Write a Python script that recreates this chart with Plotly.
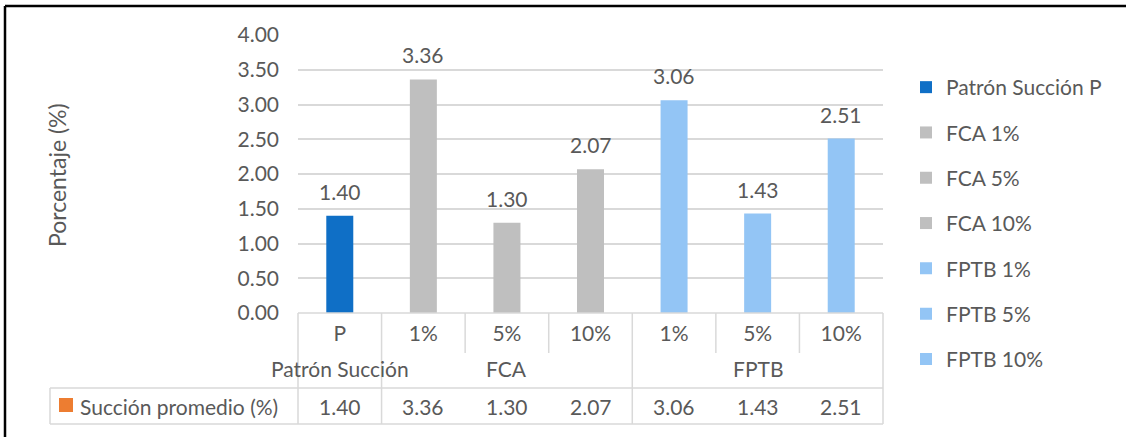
import plotly.graph_objects as go

# ---- data ----
groups = ["Patrón Succión", "FCA", "FCA", "FCA", "FPTB", "FPTB", "FPTB"]
levels = ["P", "1%", "5%", "10%", "1%", "5%", "10%"]
values = [1.40, 3.36, 1.30, 2.07, 3.06, 1.43, 2.51]
table_series = "Succión promedio (%)"
y_title = "Porcentaje (%)"
y_ticks = [0, 0.5, 1.0, 1.5, 2.0, 2.5, 3.0, 3.5, 4.0]

# ---- style ----
bar_colors = ["#0F6FC6", "#BFBFBF", "#BFBFBF", "#BFBFBF", "#93C5F5", "#93C5F5", "#93C5F5"]
table_key_color = "#ED7D31"
text_color = "#595959"
grid_color = "#D9D9D9"
font_family = "Lato, 'Noto Sans', sans-serif"
fs = 21

W, H = 1126, 437
L, R, T, B = 298, 883, 35, 313          # plot area in pixels
PW, PH = R - L, B - T
n = len(values)
legend_split = 4                         # entries shown in the first legend box
legend_step = 45.3                       # vertical distance between entries


def px_x(p):
    return (p - L) / PW


def px_y(p):
    return (B - p) / PH


def cat_x(c):
    # category-axis coordinate -> paper coordinate
    return (c + 0.5) / n


fig = go.Figure()
for i, (g, lv, v) in enumerate(zip(groups, levels, values)):
    fig.add_trace(go.Bar(
        x=[i], y=[v], width=0.323, name=f"{g} {lv}",
        marker=dict(color=bar_colors[i], line=dict(width=0)),
        legendgroup=f"s{i}", hoverinfo="skip",
        legend="legend" if i < legend_split else "legend2",
    ))
    fig.add_annotation(x=i, y=v, xref="x", yref="y", text=f"{v:.2f}",
                       showarrow=False, yanchor="bottom", yshift=10,
                       font=dict(size=fs, color=text_color, family=font_family))

shapes = []
line_style = dict(color=grid_color, width=1.5)

# data-table grid
row1_bot, row2_bot, row3_bot = 353, 388, 424
for k in range(n + 1):
    full = k == 0 or k == n or groups[k - 1] != groups[k]
    y_end = row3_bot if full else row1_bot
    shapes.append(dict(type="line", xref="paper", yref="paper",
                       x0=cat_x(k - 0.5), x1=cat_x(k - 0.5),
                       y0=px_y(B), y1=px_y(y_end), line=line_style))
shapes.append(dict(type="line", xref="paper", yref="paper",
                   x0=0, x1=1, y0=0, y1=0, line=line_style))
for yy in (row2_bot, row3_bot):
    shapes.append(dict(type="line", xref="paper", yref="paper",
                       x0=px_x(50), x1=1, y0=px_y(yy), y1=px_y(yy), line=line_style))
shapes.append(dict(type="line", xref="paper", yref="paper",
                   x0=px_x(50), x1=px_x(50), y0=px_y(row2_bot), y1=px_y(row3_bot),
                   line=line_style))
# series key in the table
shapes.append(dict(type="rect", xref="paper", yref="paper",
                   x0=px_x(59), x1=px_x(73), y0=px_y(398), y1=px_y(412),
                   fillcolor=table_key_color, line=dict(width=0)))
# chart frame
frame = dict(color="#000000", width=2.5)
shapes.append(dict(type="line", xref="paper", yref="paper",
                   x0=px_x(5), x1=px_x(W), y0=px_y(6), y1=px_y(6), line=frame))
shapes.append(dict(type="line", xref="paper", yref="paper",
                   x0=px_x(5), x1=px_x(5), y0=px_y(6), y1=px_y(H), line=frame))

# group row labels
seen = []
for g in groups:
    if g not in seen:
        seen.append(g)
for g in seen:
    idx = [i for i, gg in enumerate(groups) if gg == g]
    center = (idx[0] + idx[-1]) / 2
    fig.add_annotation(x=cat_x(center), y=px_y(368), xref="paper", yref="paper",
                       text=g, showarrow=False, xanchor="center", yanchor="middle",
                       font=dict(size=fs, color=text_color, family=font_family))

# data row
row_y = px_y(406)
fig.add_annotation(x=px_x(78), y=row_y, xref="paper", yref="paper", text=table_series,
                   showarrow=False, xanchor="left", yanchor="middle",
                   font=dict(size=fs, color=text_color, family=font_family))
for i, v in enumerate(values):
    fig.add_annotation(x=cat_x(i), y=row_y, xref="paper", yref="paper", text=f"{v:.2f}",
                       showarrow=False, xanchor="center", yanchor="middle",
                       font=dict(size=fs, color=text_color, family=font_family))

# axis title
fig.add_annotation(x=px_x(57), y=px_y(175), xref="paper", yref="paper", text=y_title,
                   textangle=-90, showarrow=False, xanchor="center", yanchor="middle",
                   font=dict(size=23, color=text_color, family=font_family))

legend_common = dict(xanchor="left", yanchor="top",
                     font=dict(size=fs, color=text_color, family=font_family),
                     tracegroupgap=15, bgcolor="rgba(0,0,0,0)", traceorder="grouped")
legend_top = 67

fig.update_layout(
    width=W, height=H,
    margin=dict(l=L, r=W - R, t=T, b=H - B, autoexpand=False),
    paper_bgcolor="white", plot_bgcolor="white",
    barmode="overlay",
    font=dict(family=font_family, size=fs, color=text_color),
    shapes=shapes,
    showlegend=True,
    legend=dict(x=px_x(906), y=px_y(legend_top), **legend_common),
    legend2=dict(x=px_x(906), y=px_y(legend_top + legend_split * legend_step),
                 **legend_common),
    xaxis=dict(range=[-0.5, n - 0.5], tickmode="array", tickvals=list(range(n)),
               ticktext=levels, showgrid=False, zeroline=False, showline=False,
               ticks="", ticklabelstandoff=6, fixedrange=True,
               tickfont=dict(size=fs, color=text_color, family=font_family)),
    yaxis=dict(range=[0, 4], tickmode="array", tickvals=y_ticks,
               tickformat=".2f", showgrid=True, gridcolor=grid_color, gridwidth=1.5,
               zeroline=False, showline=False, ticks="", ticklabelstandoff=18,
               fixedrange=True,
               tickfont=dict(size=fs, color=text_color, family=font_family)),
)

fig.write_html("out.html")
